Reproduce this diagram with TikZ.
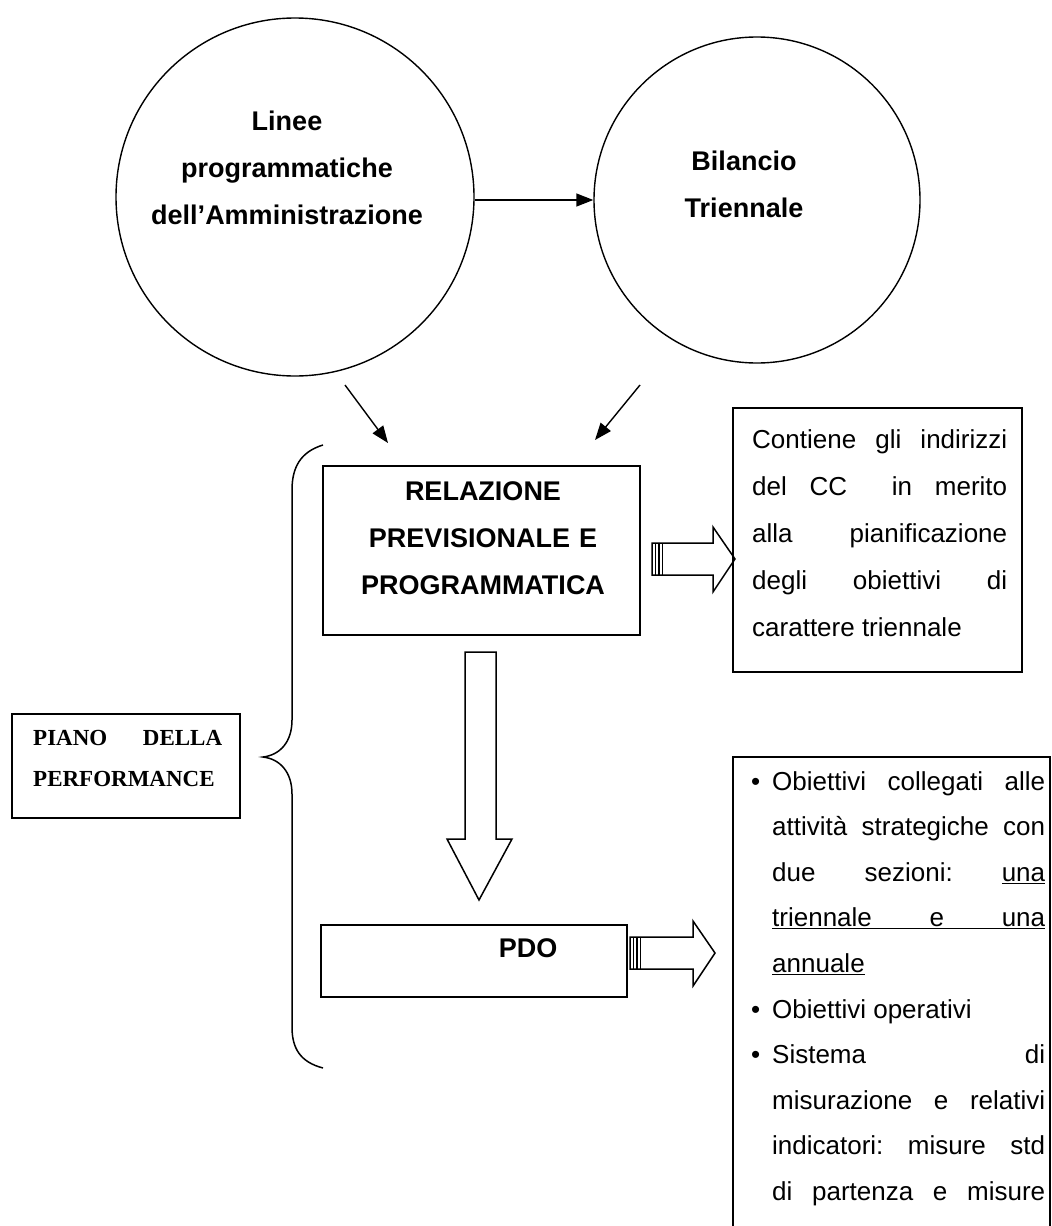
\documentclass[tikz,border=0pt]{standalone}
\usepackage{fontspec}
\setmainfont{Liberation Sans}
\newfontfamily\timesfam{Liberation Serif}
\usetikzlibrary{arrows.meta,calc}
\newcommand{\bul}{\llap{•\hspace{12pt}}}
\begin{document}
\begin{tikzpicture}[x=1pt,y=-1pt,
  boxx/.style={draw, rectangle, inner sep=0pt, line width=1.8pt},
  rnd/.style={draw, circle, inner sep=0pt, line width=1.4pt},
  thinarrow/.style={line width=1.4pt, -{Triangle[length=17pt,width=13pt]}},
  blockarr/.style={draw, line width=1.5pt, line join=miter},
  stripe/.style={line width=1.2pt},
  bracestyle/.style={line width=1.5pt},
  bigbold/.style={inner sep=0pt, anchor=base, align=center, text width=330pt,
     font=\fontsize{27}{47}\selectfont\bfseries},
  bodytxt/.style={inner sep=0pt, anchor=base west,
     font=\fontsize{26}{45.6}\selectfont},
]
\useasboundingbox (0,0) rectangle (1052,1226);

% circles
\node[rnd, minimum size=358pt] (c1) at (295,197) {};
\node[rnd, minimum size=326pt] (c2) at (757,200) {};
\node[bigbold] (c1t) at (287,130) {Linee\\programmatiche\\dell’Amministrazione};
\node[bigbold] (c2t) at (744,170) {Bilancio\\Triennale};
\coordinate (ay) at (0,200);
\draw[thinarrow] (c1.east |- ay) -- (c2.west |- ay);

% diagonal arrows
\coordinate (d1s) at (345,385);
\coordinate (d1e) at (388,443);
\coordinate (d2s) at (640,385);
\coordinate (d2e) at (595,440);
\draw[thinarrow] (d1s) -- (d1e);
\draw[thinarrow] (d2s) -- (d2e);

% boxes
\node[boxx, minimum width=317pt, minimum height=169pt] (rpp) at (481.5,550.5) {};
\node[inner sep=0pt, anchor=base, align=center, text width=300pt,
  font=\fontsize{27}{47}\selectfont\bfseries] (rppt) at (483,500)
  {RELAZIONE\\PREVISIONALE E\\PROGRAMMATICA};

\node[boxx, minimum width=289pt, minimum height=264pt] (b1) at (877.5,540) {};
\node[bodytxt, font=\fontsize{26}{47}\selectfont] (b1t) at (752,448)
  {\vtop{\hbox to 255pt{Contiene\hfill gli\hfill indirizzi}
   \hbox to 255pt{del\hfill CC\hspace{22pt}\hfill in\hfill merito}
   \hbox to 255pt{alla\hfill pianificazione}
   \hbox to 255pt{degli\hfill obiettivi\hfill di}
   \hbox{carattere triennale}}};

\node[boxx, minimum width=306pt, minimum height=72pt] (pdo) at (474,961) {};
\node[inner sep=0pt, anchor=base, font=\fontsize{27}{27}\selectfont\bfseries] (pdot) at (528,957) {PDO};

\node[boxx, minimum width=317pt, minimum height=560pt] (b2) at (891.5,1037) {};
\node[bodytxt] (b2t) at (772,790)
  {\vtop{\hbox to 273pt{\bul Obiettivi\hfill collegati\hfill alle}
   \hbox to 273pt{attività\hfill strategiche\hfill con}
   \hbox to 273pt{due\hfill sezioni:\hfill \underline{una}}
   \hbox to 273pt{\underline{\hbox to 273pt{triennale\hfill e\hfill una}}}
   \hbox{\underline{annuale}}
   \hbox{\bul Obiettivi operativi}
   \hbox to 273pt{\bul Sistema\hfill di}
   \hbox to 273pt{misurazione\hfill e\hfill relativi}
   \hbox to 273pt{indicatori:\hfill misure\hfill std}
   \hbox to 273pt{di\hfill partenza\hfill e\hfill misure}}};

\node[boxx, minimum width=228pt, minimum height=104pt] (piano) at (126,766) {};
\node[inner sep=0pt, anchor=base west,
  font=\timesfam\bfseries\fontsize{23}{41}\selectfont] (pianot) at (33,745)
  {\vtop{\hbox to 189pt{PIANO\hfill DELLA}\hbox{PERFORMANCE}}};

% brace
\draw[bracestyle] (323,445) .. controls (300,452) and (292,468) .. (292,490)
  -- (292,720) .. controls (292,742) and (280,755) .. (263,757)
  .. controls (280,759) and (292,772) .. (292,794)
  -- (292,1027) .. controls (292,1048) and (300,1062) .. (323,1068);

% block arrow right 1
\draw[blockarr] (652,543) -- (713,543) -- (713,527) -- (735,559) -- (713,592)
  -- (713,575) -- (652,575) -- cycle;
\foreach \sx in {655.5,659,662.5} \draw[stripe] (\sx,543) -- (\sx,575);

% block arrow right 2
\draw[blockarr] (630,937) -- (693,937) -- (693,921) -- (715,953) -- (693,986)
  -- (693,969) -- (630,969) -- cycle;
\foreach \sx in {633.5,637,640.5} \draw[stripe] (\sx,937) -- (\sx,969);

% block arrow down
\draw[blockarr] (465,652) -- (496,652) -- (496,839) -- (512,839) -- (479,900)
  -- (447,839) -- (465,839) -- cycle;
\end{tikzpicture}
\end{document}
